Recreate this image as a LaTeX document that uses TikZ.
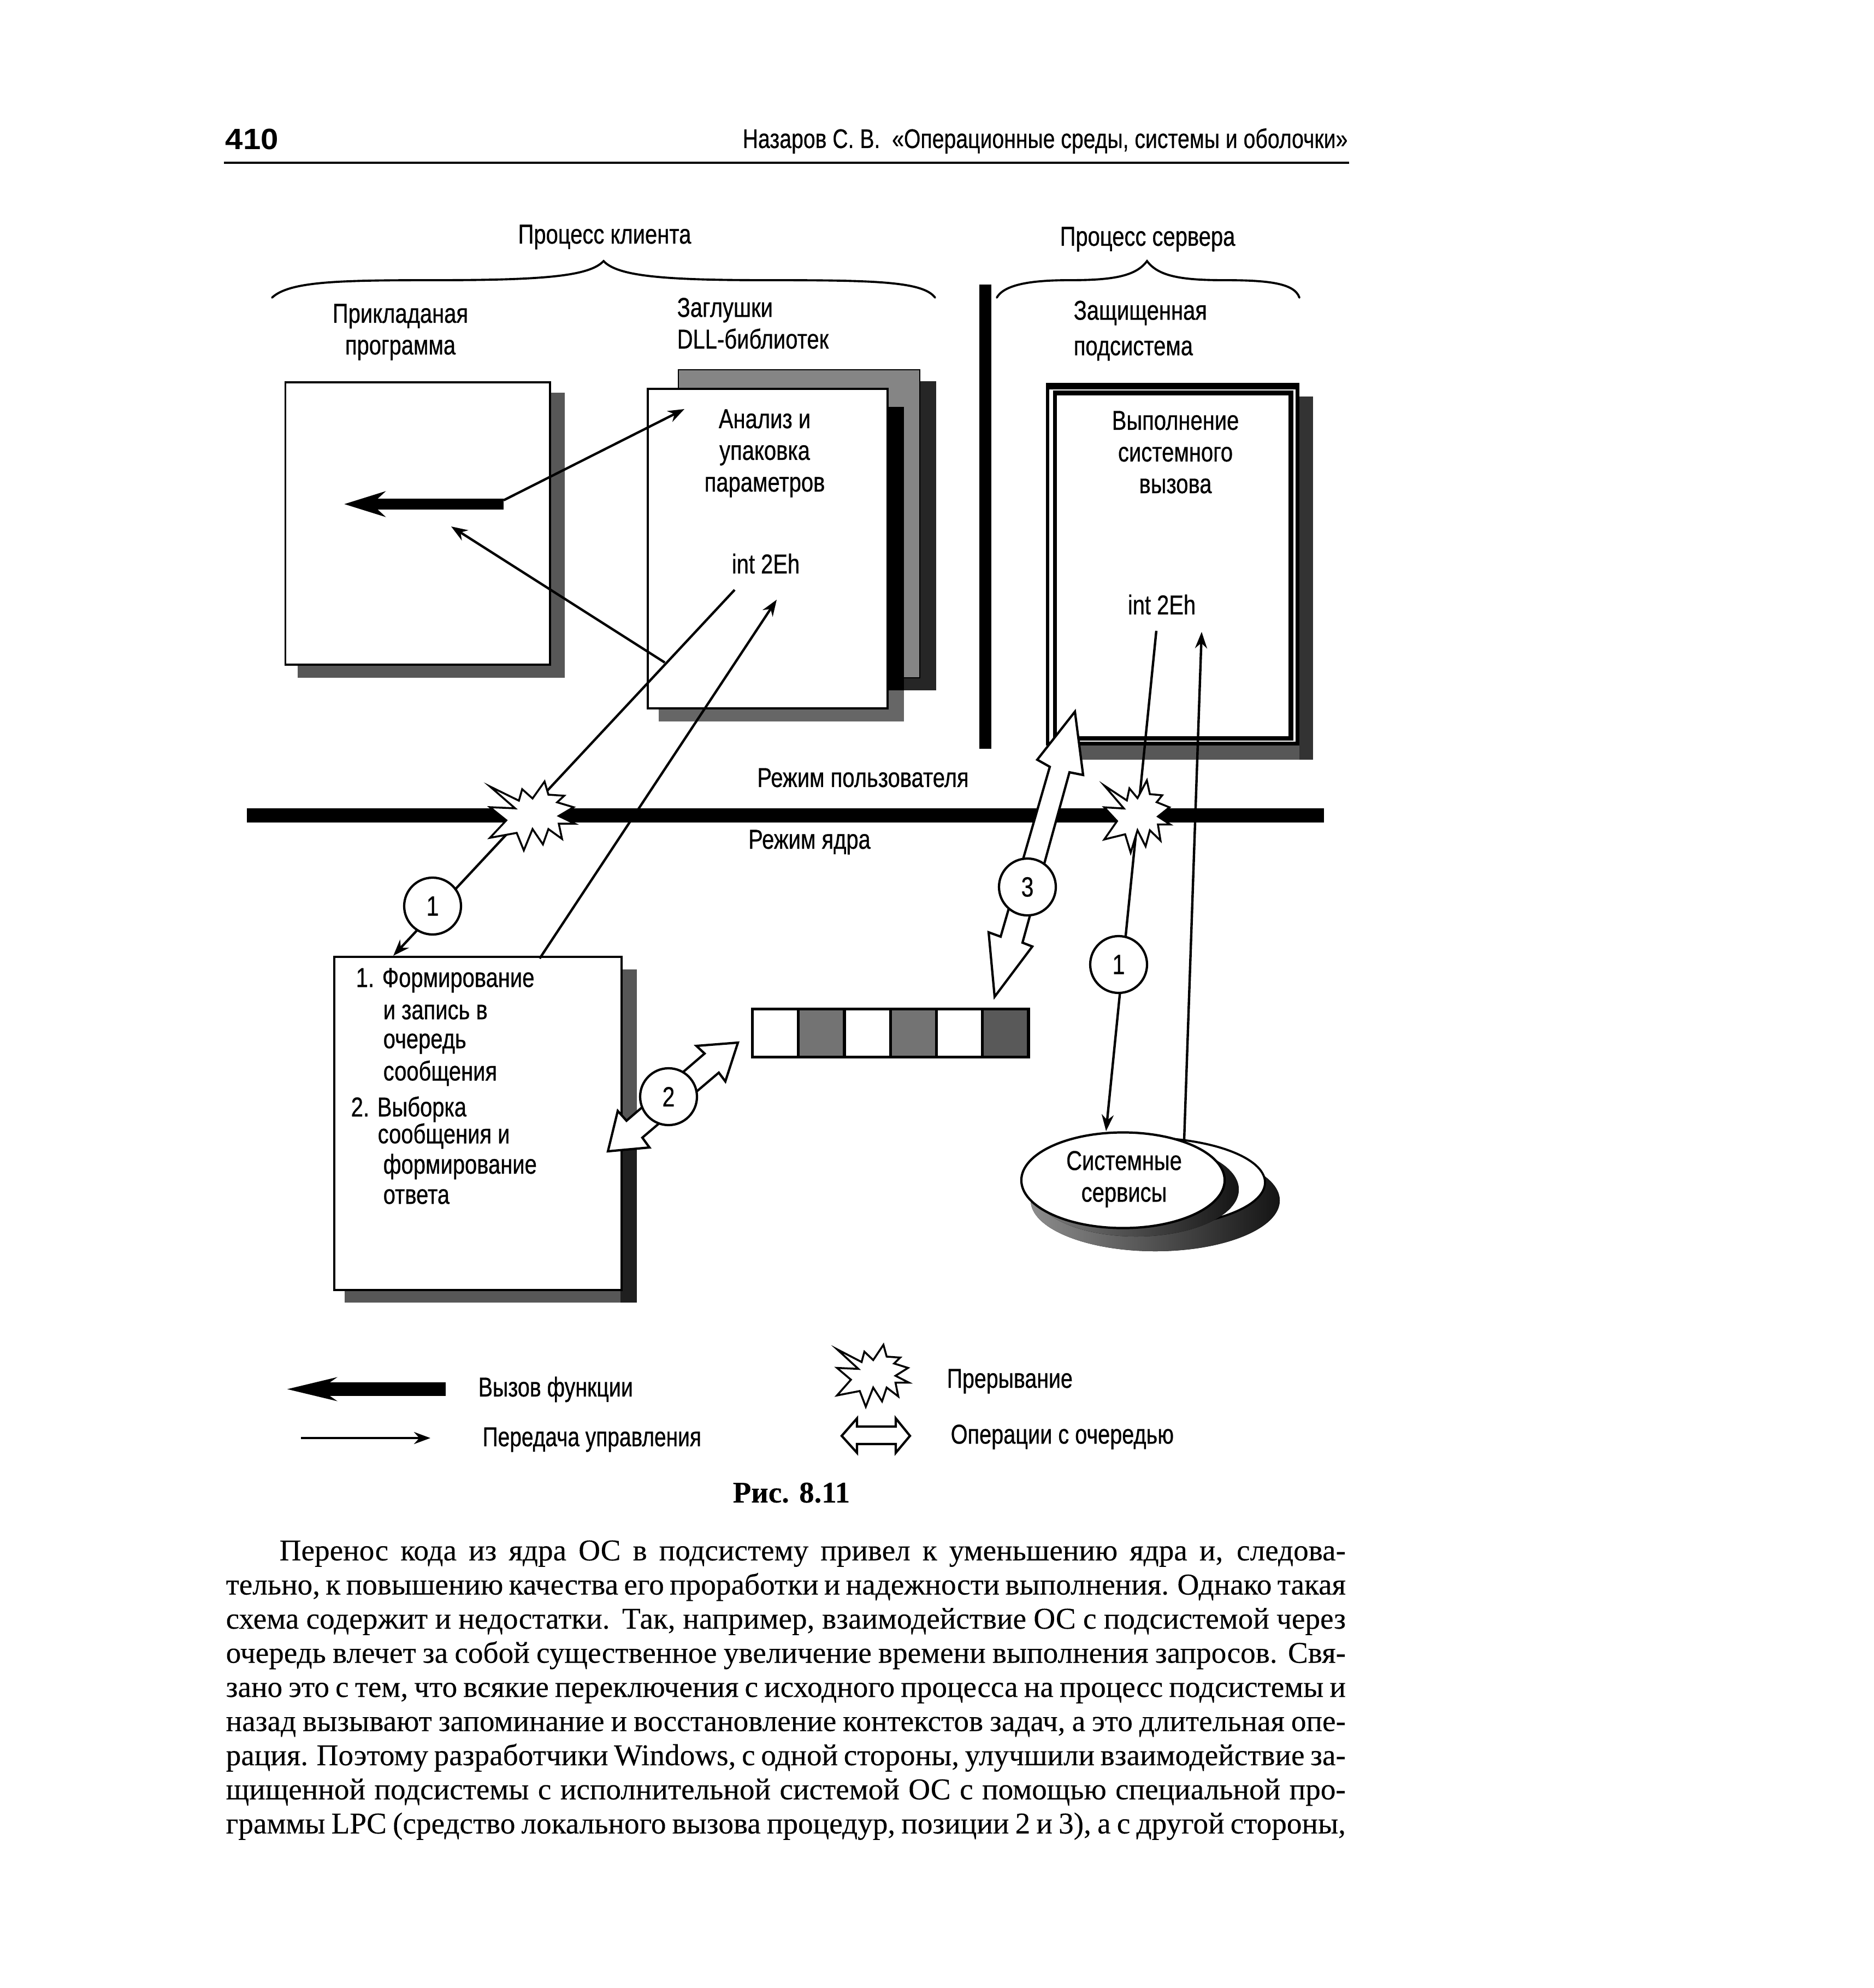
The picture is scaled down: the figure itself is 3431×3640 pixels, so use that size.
\documentclass[tikz,border=0pt]{standalone}
\usepackage{fontspec}
\usepackage{graphicx}
\usetikzlibrary{arrows.meta,shapes.geometric}
\setmainfont[FakeBold=.2]{Liberation Serif}
\newfontfamily\capf[FakeBold=.2]{Liberation Serif Bold}
\newfontfamily\lab[FakeStretch=0.8,FakeBold=.6]{Liberation Sans}
\newfontfamily\hdf[FakeBold=.6]{Liberation Sans}
\newcommand\burst[4]{\begin{scope}[shift={(#1,#2)},xscale=#3,yscale=#4]
\draw[burstline] (-76,-54)--(-23,-28)--(-17,-49)--(2,-32)--(24,-63)--(31,-39)--(60,-37)--(47,-25)--(77,-16)--(50,0)--(79,14)--(50,14)--(56,42)--(31,24)--(21,52)--(2,24)--(-14,63)--(-27,31)--(-76,40)--(-46,8)--(-76,-16)--(-30,-14)--cycle;
\end{scope}}
\tikzset{
 lbl/.style={inner sep=0pt,font=\lab\fontsize{14.2}{16.5}\selectfont,align=center},
 lbll/.style={lbl,anchor=west,align=left},
 sheet/.style={draw=black,fill=white,line width=1.1pt},
 shade1/.style={fill=black!66},
 shade2/.style={fill=black!85},
 ctl/.style={draw=black,line width=1.25pt,-{Stealth[length=.3cm,width=.22cm]}},
 burstline/.style={draw=black,fill=white,line width=1pt,line join=miter},
 hollow/.style={draw=black,fill=white,line width=1.2pt,line join=miter},
 numc/.style={circle,draw=black,fill=white,line width=1.2pt,minimum size=1.04cm,inner sep=0pt,font=\lab\fontsize{14.5}{16}\selectfont},
 cell/.style={draw=black,line width=1.5pt},
 brace/.style={draw=black,line width=1.1pt,line cap=round},
}
\begin{document}
\begin{tikzpicture}[x=0.01cm,y=-0.01cm]
\useasboundingbox (0,0) rectangle (3431,3640);
\fill[white] (0,0) rectangle (3431,3640);
% header
\node[anchor=base west,inner sep=0pt,font=\fontspec{Liberation Sans Bold}\fontsize{15.3}{18}\selectfont] (pg) at (412,274) {\resizebox{.97cm}{\height}{410}};
\node[anchor=base east,inner sep=0pt,font=\hdf\fontsize{14}{16}\selectfont] (hd) at (2468,271) {\resizebox{11.07cm}{\height}{Назаров С. В.\ \ «Операционные среды, системы и оболочки»}};
\draw[line width=1.4pt] (410,298) -- (2470,298);
% braces
\draw[brace] (498,545) .. controls (530,515) and (620,513) .. (800,513) .. controls (1000,513) and (1080,505) .. (1105,478) .. controls (1130,505) and (1210,513) .. (1400,513) .. controls (1600,513) and (1690,515) .. (1712,545);
\draw[brace] (1825,545) .. controls (1840,518) and (1900,513) .. (1960,513) .. controls (2040,513) and (2080,505) .. (2100,478) .. controls (2120,505) and (2160,513) .. (2240,513) .. controls (2320,513) and (2370,518) .. (2379,545);
\node[lbl] (tclient) at (1107,434) {Процесс клиента};
\node[lbl] (tserver) at (2101,438) {Процесс сервера};
\node[lbl] (tapp) at (733,608) {Прикладаная\\программа};
\node[lbll] (tstub) at (1239,592) {Заглушки\\DLL-библиотек};
\node[lbll] (tsub1) at (1965,573) {Защищенная};
\node[lbll] (tsub2) at (1965,642) {подсистема};
% separator
\fill (1793,521) rectangle (1815,1371);
% application box
\fill[shade1] (545,719) rectangle (1034,1241);
\node[sheet,minimum width=4.84cm,minimum height=5.165cm,anchor=north west,inner sep=0pt] (app) at (520.5,698.5) {};
% stub box
\fill[shade2] (1270,698) rectangle (1714,1264);
\draw[fill=black!48,line width=.6pt] (1242,677) rectangle (1684,1241);
\fill[black!60] (1206,745) rectangle (1655,1321);
\fill[black] (1623,745) rectangle (1655,1264);
\node[sheet,minimum width=4.39cm,minimum height=5.85cm,anchor=north west,inner sep=0pt] (stub) at (1184,710) {};
\node[lbl] (t1) at (1400,830) {Анализ и\\упаковка\\параметров};
\node[lbl] (t2) at (1402,1032) {int 2Eh};
% server box
\fill[shade1] (1975,726) rectangle (2404,1391);
\fill[black!80] (2379,726) rectangle (2404,1391);
\fill (1915,701) rectangle (2379,1365);
\fill[white] (1921,713) rectangle (2372,1358);
\fill (1928,715) rectangle (2368,1356);
\node[fill=white,minimum width=4.24cm,minimum height=6.24cm,anchor=north west,inner sep=0pt] (srv) at (1934,723) {};
\node[lbl] (t3) at (2152,828) {Выполнение\\системного\\вызова};
\node[lbl] (t4) at (2127,1107) {int 2Eh};
% mode line
\fill (452,1480) rectangle (2424,1506);
\node[lbl] (um) at (1580,1424) {Режим пользователя};
\node[lbl] (km) at (1482,1542) {Режим ядра};
% message box
\fill[shade1] (631,1775) rectangle (1166,2385);
\fill[black!88] (1136,2100) rectangle (1166,2385);
\node[sheet,minimum width=5.26cm,minimum height=6.1cm,anchor=north west,inner sep=0pt] (msg) at (610,1750) {};
\node[lbll] (m1) at (651,1795) {1. Формирование};
\node[lbll] (m2) at (701,1853) {и запись в};
\node[lbll] (m3) at (701,1911) {очередь};
\node[lbll] (m4) at (701,1965) {сообщения};
\node[lbll] (m5) at (642,2031) {2. Выборка};
\node[lbll] (m6) at (691,2080) {сообщения и};
\node[lbll] (m7) at (701,2136) {формирование};
\node[lbll] (m8) at (701,2191) {ответа};
% queue
\foreach \i/\c in {0/white,1/black!55,2/white,3/black!55,4/white,5/black!65}{
 \node[cell,fill=\c,minimum width=.844cm,minimum height=.875cm,anchor=north west,inner sep=0pt] (q\i) at ({1375+84.2*\i},1845) {};
}
% services
\fill[left color=black!45,right color=black!92] (2115,2198) ellipse [x radius=228,y radius=93];
\draw[fill=white,line width=1.1pt] (2095,2165) ellipse [x radius=221,y radius=82];
\fill[left color=black!50,right color=black!92] (2080,2178) ellipse [x radius=188,y radius=86];
\node[draw=black,fill=white,line width=1.2pt,ellipse,minimum width=3.72cm,minimum height=1.75cm,inner sep=0pt] (svc) at (2056,2161) {};
\node[lbl] (t5) at (2058,2159) {Системные\\сервисы};
% named ends
\coordinate (a1) at (922,916); \coordinate (a2) at (1253,749);
\coordinate (b1) at (1217,1213); \coordinate (b2) at (826,964);
\coordinate (c1) at (1345,1080); \coordinate (c2) at (720,1750);
\coordinate (d1) at (988,1755); \coordinate (d2) at (1422,1098);
\coordinate (e1) at (2117,1155); \coordinate (e2) at (2025,2071);
\coordinate (f1) at (2168,2087); \coordinate (f2) at (2200,1157);
\coordinate (g1) at (922,923); \coordinate (g2) at (630,923);
% call arrow
\draw[line width=.2cm,-{Stealth[length=.75cm,width=.46cm]}] (g1) -- (g2);
\draw[ctl] (a1) -- (a2);
\draw[ctl] (b1) -- (b2);
\draw[ctl] (c1) -- (c2);
\draw[ctl] (d1) -- (d2);
\draw[ctl] (e1) -- (e2);
\draw[ctl] (f1) -- (f2);
% queue arrows
\draw[hollow] (1351,1909)--(1328,1980)--(1316,1964)--(1176,2083)--(1189,2101)--(1113,2108)--(1131,2034)--(1147,2052)--(1290,1929)--(1275,1915)--cycle;
\draw[hollow] (1968,1303)--(1983,1419)--(1958,1414)--(1872,1726)--(1890,1733)--(1821,1825)--(1810,1707)--(1832,1715)--(1922,1404)--(1899,1391)--cycle;
\burst{973}{1494}{1}{1}
\burst{2081}{1495}{.78}{1.05}
\node[numc] (n1) at (792,1659) {1};
\node[numc] (n2) at (1224,2008) {2};
\node[numc] (n3) at (1881,1624) {3};
\node[numc] (n4) at (2048,1766) {1};
% legend
\coordinate (l1) at (816,2543.5); \coordinate (l2) at (525,2543.5);
\coordinate (l3) at (551,2633); \coordinate (l4) at (788,2633);
\draw[line width=.25cm,-{Stealth[length=.9cm,width=.42cm]}] (l1) -- (l2);
\draw[ctl] (l3) -- (l4);
\node[lbll] (ll1) at (875,2544) {\resizebox{2.83cm}{\height}{Вызов функции}};
\node[lbll] (ll2) at (883,2636) {\resizebox{4cm}{\height}{Передача управления}};
\burst{1597}{2519}{.85}{.9}
\draw[hollow] (1541,2629)--(1569,2597)--(1569,2612)--(1640,2612)--(1640,2597)--(1666,2629)--(1640,2660)--(1640,2644)--(1569,2644)--(1569,2660)--cycle;
\node[lbll] (ll3) at (1733,2529) {\resizebox{2.3cm}{\height}{Прерывание}};
\node[lbll] (ll4) at (1740,2631) {\resizebox{4.08cm}{\height}{Операции с очередью}};
\node[anchor=base west,inner sep=0pt,font=\capf\fontsize{15.6}{18}\selectfont] (cap) at (1341,2751) {Рис. 8.11};
% body text
\foreach \n/\yy/\x/\w/\t in {
 1/2857/511/19.51cm/{Перенос кода из ядра ОС в подсистему привел к уменьшению ядра и, следова-},
 2/2919.5/413/20.49cm/{тельно, к повышению качества его проработки и надежности выполнения. Однако такая},
 3/2982/413/20.49cm/{схема содержит и недостатки. Так, например, взаимодействие ОС с подсистемой через},
 4/3044.5/413/20.49cm/{очередь влечет за собой существенное увеличение времени выполнения запросов. Свя-},
 5/3107/413/20.49cm/{зано это с тем, что всякие переключения с исходного процесса на процесс подсистемы и},
 6/3169.5/413/20.49cm/{назад вызывают запоминание и восстановление контекстов задач, а это длительная опе-},
 7/3232/413/20.49cm/{рация. Поэтому разработчики Windows, с одной стороны, улучшили взаимодействие за-},
 8/3294.5/413/20.49cm/{щищенной подсистемы с исполнительной системой ОС с помощью специальной про-},
 9/3357/413/20.49cm/{граммы LPC (средство локального вызова процедур, позиции 2 и 3), а с другой стороны,}}
 {\node[anchor=base west,inner sep=0pt] (body\n) at (\x,\yy) {\fontsize{15.7}{18}\selectfont\spaceskip=.2em plus 1fil minus .1em\relax\makebox[\w][s]{\t}};}
\end{tikzpicture}
\end{document}
